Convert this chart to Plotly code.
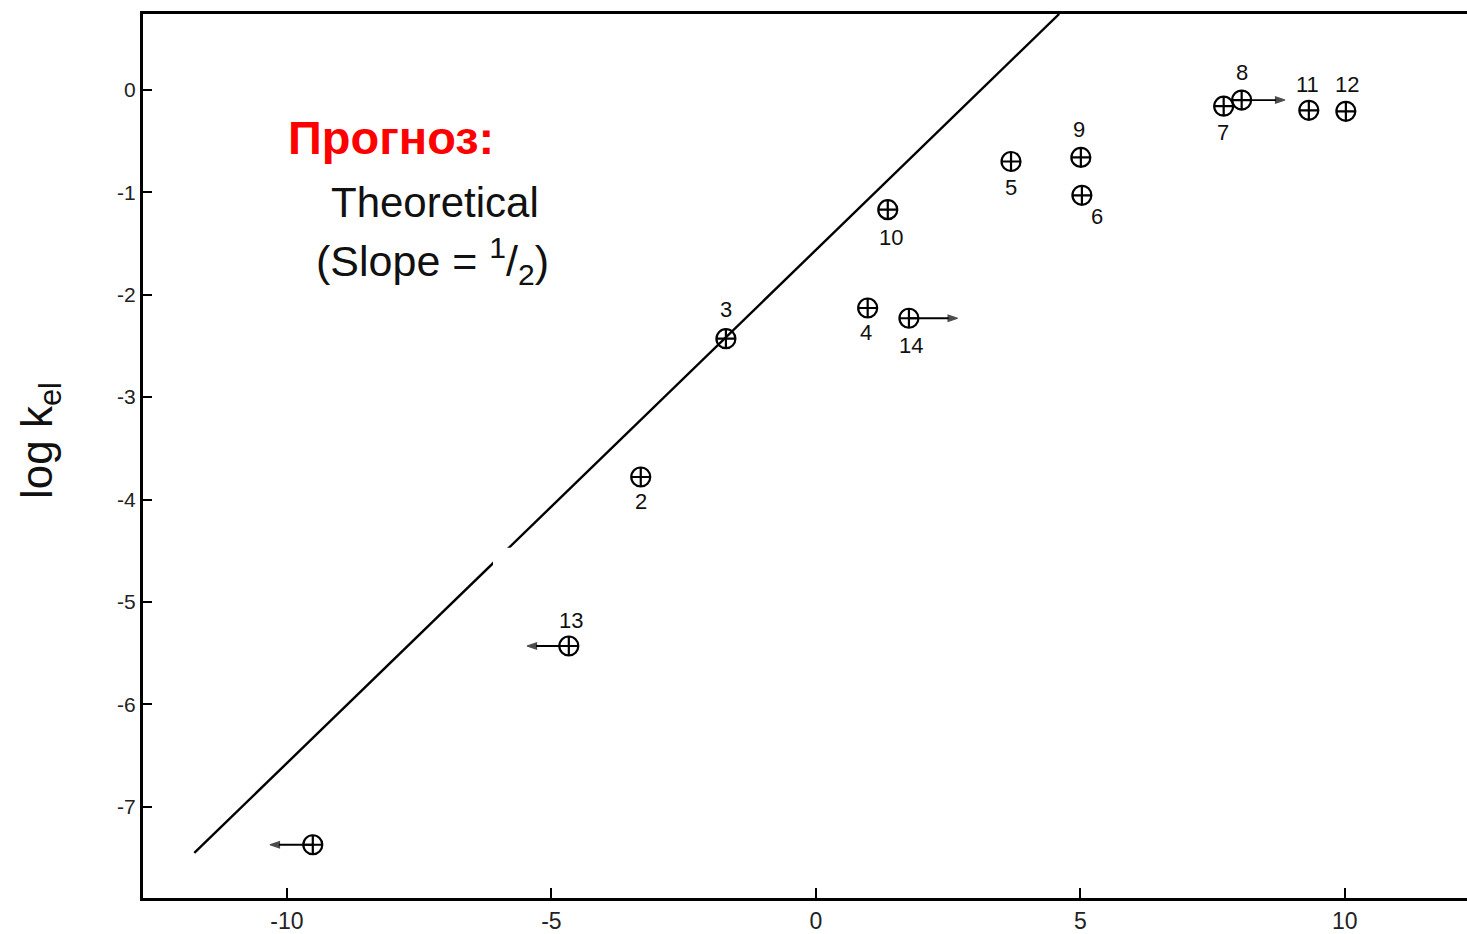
import plotly.graph_objects as go

# ---- data ----
point_ids = ["", "13", "2", "3", "4", "14", "10", "5", "9", "6", "7", "8", "11", "12"]
log_x = [-9.51, -4.67, -3.31, -1.70, 0.98, 1.76, 1.36, 3.69, 5.01, 5.03, 7.71, 8.05, 9.32, 10.02]
log_kel = [-7.37, -5.43, -3.78, -2.43, -2.13, -2.23, -1.17, -0.70, -0.66, -1.03, -0.16, -0.10, -0.20, -0.21]
# label offsets in pixels (dx, dy) relative to the marker
label_dx = [0, 2, 0, 0, -2, 2, 3, 0, -2, 15, -1, 0, -1, 1]
label_dy = [0, -26, 24, -29, 25, 27, 28, 26, -28, 21, 26, -28, -26, -27]

# theoretical line (slope = 1/2) end points
theory_x = [-11.75, 4.6]
theory_y = [-7.45, 0.74]

# arrows: (from point index, to x)
arrow_idx = [0, 1, 5, 11]
arrow_to_x = [-10.32, -5.46, 2.68, 8.87]

x_ticks = [-10, -5, 0, 5, 10]
x_ticktext = ["-10", "-5", "0", "5", "10"]
y_ticks = [0, -1, -2, -3, -4, -5, -6, -7]
y_ticktext = ["0", "-1", "-2", "-3", "-4", "-5", "-6", "-7"]

fig = go.Figure()

fig.add_trace(go.Scatter(
    x=theory_x, y=theory_y, mode="lines",
    line=dict(color="black", width=2.4), showlegend=False, hoverinfo="skip"))

for i, tx in zip(arrow_idx, arrow_to_x):
    fig.add_trace(go.Scatter(
        x=[log_x[i], tx], y=[log_kel[i], log_kel[i]], mode="lines+markers",
        line=dict(color="black", width=1.8),
        marker=dict(symbol="arrow", angleref="previous", size=[0, 10],
                    color="black", line=dict(width=1.2, color="black")),
        showlegend=False, hoverinfo="skip"))

fig.add_trace(go.Scatter(
    x=log_x, y=log_kel, mode="markers",
    marker=dict(symbol="circle-cross-open", size=19, color="black",
                line=dict(color="black", width=2.2)),
    showlegend=False))

annotations = []
for pid, x, y, dx, dy in zip(point_ids, log_x, log_kel, label_dx, label_dy):
    if not pid:
        continue
    annotations.append(dict(
        x=x, y=y, xref="x", yref="y", text=pid, showarrow=False,
        xshift=dx, yshift=-dy,
        font=dict(family="Liberation Sans Narrow, Liberation Sans, Arial", size=22, color="#111")))

# text block
annotations.append(dict(
    x=286, y=138, xref="paper", yref="paper", text="<b>Прогноз:</b>",
    showarrow=False, xanchor="left", yanchor="middle",
    font=dict(family="Liberation Sans, Arial", size=47, color="#ff0000")))
annotations.append(dict(
    x=329, y=203, xref="paper", yref="paper", text="Theoretical",
    showarrow=False, xanchor="left", yanchor="middle",
    font=dict(family="Liberation Sans, Arial", size=42, color="#111")))
annotations.append(dict(
    x=314, y=262, xref="paper", yref="paper",
    text="(Slope = <sup>1</sup>/<sub>2</sub>)",
    showarrow=False, xanchor="left", yanchor="middle",
    font=dict(family="Liberation Sans, Arial", size=43, color="#111")))
# y axis title
annotations.append(dict(
    x=40, y=442, xref="paper", yref="paper", text="log k<sub>el</sub>",
    showarrow=False, textangle=-90, xanchor="center", yanchor="middle",
    font=dict(family="Liberation Sans, Arial", size=44, color="#111")))

# convert pixel-positioned annotations to paper coords
L, R, T, B = 143, 0, 14, 34
W, H = 1467, 934
pw, ph = W - L - R, H - T - B
for a in annotations:
    if a.get("xref") == "paper":
        a["x"] = (a["x"] - L) / pw
        a["y"] = 1 - (a["y"] - T) / ph

fig.update_layout(
    width=W, height=H,
    margin=dict(l=L, r=R, t=T, b=B),
    paper_bgcolor="white", plot_bgcolor="white",
    annotations=annotations,
    xaxis=dict(range=[-12.72, 12.31], tickvals=x_ticks, ticktext=x_ticktext,
               ticks="inside", ticklen=10, tickwidth=2, tickcolor="black",
               showgrid=False, zeroline=False, showline=True, linecolor="black",
               linewidth=3, mirror=True,
               tickfont=dict(family="Liberation Sans Narrow, Liberation Sans, Arial", size=23, color="#222")),
    yaxis=dict(range=[-7.89, 0.74], tickvals=y_ticks, ticktext=y_ticktext,
               ticks="inside", ticklen=9, tickwidth=2, tickcolor="black",
               showgrid=False, zeroline=False, showline=True, linecolor="black",
               linewidth=3, mirror=False,
               tickfont=dict(family="Liberation Sans Narrow, Liberation Sans, Arial", size=21, color="#222")),
    shapes=[dict(type="rect", xref="paper", yref="paper",
                 x0=(493 - L) / pw, x1=(782 - L) / pw,
                 y0=1 - (612 - T) / ph, y1=1 - (549 - T) / ph,
                 fillcolor="white", line=dict(width=0), layer="above")],
)

fig.write_html("out.html")
